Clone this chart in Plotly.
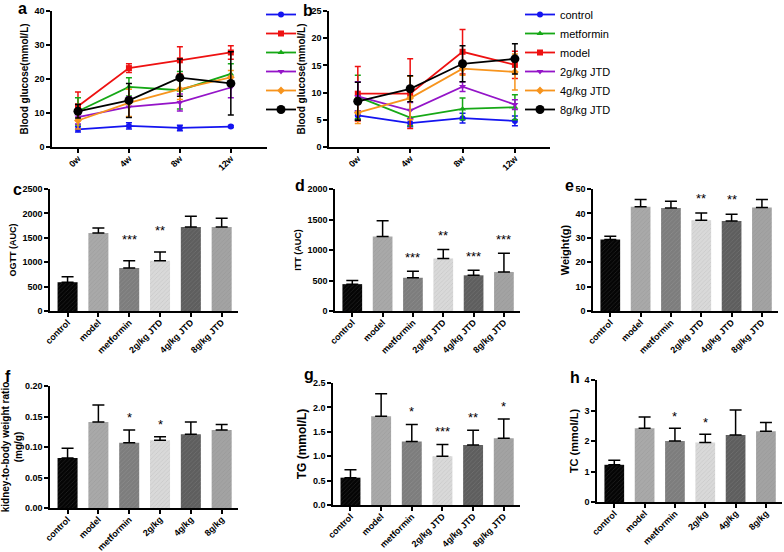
import plotly.graph_objects as go

W, H = 784, 552
FONT = "Liberation Sans, Arial, sans-serif"

# ---------------- data ----------------
weeks = ["0w", "4w", "8w", "12w"]
groups_a = ["control", "model", "metformin", "2g/kg JTD", "4g/kg JTD", "8g/kg JTD"]
groups_b = ["control", "metformin", "model", "2g/kg JTD", "4g/kg JTD", "8g/kg JTD"]

glu_a = {
    "control":   [5.2, 6.2, 5.6, 6.0],
    "model":     [12.0, 23.2, 25.5, 27.8],
    "metformin": [10.5, 17.7, 16.7, 21.5],
    "2g/kg JTD": [8.8, 11.8, 13.1, 17.5],
    "4g/kg JTD": [7.8, 13.0, 17.0, 20.5],
    "8g/kg JTD": [10.5, 13.7, 20.4, 18.7],
}
glu_a_err = {
    "control":   [0.8, 0.9, 0.8, 0.3],
    "model":     [4.2, 1.3, 4.0, 2.0],
    "metformin": [4.0, 2.7, 5.5, 3.0],
    "2g/kg JTD": [2.0, 3.0, 2.5, 3.0],
    "4g/kg JTD": [2.5, 4.0, 3.0, 2.0],
    "8g/kg JTD": [2.0, 5.0, 5.5, 9.3],
}
glu_b = {
    "control":   [5.8, 4.4, 5.3, 4.8],
    "metformin": [9.2, 5.4, 7.0, 7.3],
    "model":     [9.8, 9.8, 17.5, 15.1],
    "2g/kg JTD": [9.3, 6.7, 11.1, 7.8],
    "4g/kg JTD": [6.3, 9.0, 14.4, 13.8],
    "8g/kg JTD": [8.4, 10.7, 15.3, 16.2],
}
glu_b_err = {
    "control":   [0.8, 0.7, 0.9, 0.9],
    "metformin": [4.0, 1.5, 2.0, 2.3],
    "model":     [5.0, 6.4, 4.1, 2.5],
    "2g/kg JTD": [2.7, 1.5, 0.9, 0.9],
    "4g/kg JTD": [2.0, 4.0, 1.2, 3.3],
    "8g/kg JTD": [3.5, 2.4, 3.3, 2.8],
}
line_colors = {
    "control": "#1414f0", "model": "#ee1111", "metformin": "#16a816",
    "2g/kg JTD": "#9414c8", "4g/kg JTD": "#f7941d", "8g/kg JTD": "#000000",
}
line_symbols = {
    "control": "circle", "model": "square", "metformin": "triangle-up",
    "2g/kg JTD": "triangle-down", "4g/kg JTD": "diamond", "8g/kg JTD": "circle",
}

bar_groups_long = ["control", "model", "metformin", "2g/kg JTD", "4g/kg JTD", "8g/kg JTD"]
bar_groups_short = ["control", "model", "metformin", "2g/kg", "4g/kg", "8g/kg"]
bar_colors = ["#050505", "#a9a9a9", "#7d7d7d", "#d9d9d9", "#5e5e5e", "#a3a3a3"]

ogtt = [590, 1600, 880, 1030, 1720, 1720]
ogtt_err = [110, 100, 150, 180, 220, 180]
ogtt_sig = ["", "", "***", "**", "", ""]

itt = [440, 1220, 545, 860, 585, 640]
itt_err = [60, 260, 105, 150, 85, 305]
itt_sig = ["", "", "***", "**", "***", "***"]

weight = [29.3, 42.7, 42.2, 37.2, 36.9, 42.4]
weight_err = [1.3, 3.0, 2.8, 3.0, 2.8, 3.3]
weight_sig = ["", "", "", "**", "**", ""]

kidney = [0.082, 0.141, 0.107, 0.111, 0.121, 0.128]
kidney_err = [0.016, 0.028, 0.021, 0.006, 0.020, 0.009]
kidney_sig = ["", "", "*", "*", "", ""]

tg = [0.56, 1.82, 1.30, 1.00, 1.23, 1.37]
tg_err = [0.16, 0.46, 0.35, 0.24, 0.30, 0.39]
tg_sig = ["", "", "*", "***", "**", "*"]

tc = [1.22, 2.42, 2.00, 1.95, 2.20, 2.32]
tc_err = [0.15, 0.37, 0.42, 0.27, 0.82, 0.29]
tc_sig = ["", "", "*", "*", "", ""]

# ---------------- layout helpers ----------------
def xd(l, r):
    return [l / W, r / W]

def yd(t, b):
    return [1 - b / H, 1 - t / H]

fig = go.Figure()
layout = {}
annotations = []

tickfont = dict(family=FONT, size=9, color="black", weight="bold")

def add_axes(i, xdom, ydom, yrange, dtick, ytitle, title_size, xrange, tickformat=None, standoff=4):
    xs = "xaxis" if i == 1 else f"xaxis{i}"
    ys = "yaxis" if i == 1 else f"yaxis{i}"
    layout[xs] = dict(domain=xdom, anchor=f"y{i}" if i > 1 else "y", range=xrange,
                      showline=True, linecolor="black", linewidth=1.5, ticks="outside",
                      ticklen=4, tickwidth=1.5, tickcolor="black", tickangle=-45,
                      ticklabelstandoff=-3,
                      tickfont=tickfont, showgrid=False, zeroline=False, fixedrange=True,
                      automargin=False)
    layout[ys] = dict(domain=ydom, anchor=f"x{i}" if i > 1 else "x", range=yrange,
                      dtick=dtick, tick0=0, showline=True, linecolor="black", linewidth=1.5,
                      ticks="outside", ticklen=4, tickwidth=1.5, tickcolor="black",
                      tickfont=tickfont, showgrid=False, zeroline=False, fixedrange=True,
                      automargin=False,
                      title=dict(text=ytitle, font=dict(family=FONT, size=title_size, color="black",
                                                        weight="bold"), standoff=standoff))
    if tickformat:
        layout[ys]["tickformat"] = tickformat

def ax(i):
    return ("x" if i == 1 else f"x{i}", "y" if i == 1 else f"y{i}")

# ---------------- line panels ----------------
add_axes(1, xd(52, 267), yd(11, 147), [0, 40], 10, "Blood glucose(mmol/L)", 10, [-0.51, 3.71])
add_axes(2, xd(329, 550), yd(11, 147), [0, 25], 5, "Blood glucose(mmol/L)", 10, [-0.55, 3.67])

for g in groups_a:
    xa, ya = ax(1)
    fig.add_trace(go.Scatter(
        x=weeks, y=glu_a[g], name="", mode="lines+markers", xaxis=xa, yaxis=ya,
        hovertemplate=g + ": %{y}<extra></extra>",
        line=dict(color=line_colors[g], width=1.8),
        marker=dict(symbol=line_symbols[g], color=line_colors[g],
                    size=9 if g == "8g/kg JTD" else 6),
        error_y=dict(type="data", array=glu_a_err[g], color=line_colors[g], thickness=1.5, width=3),
        legend="legend2", showlegend=True))

for g in groups_b:
    xa, ya = ax(2)
    fig.add_trace(go.Scatter(
        x=weeks, y=glu_b[g], name=g, mode="lines+markers", xaxis=xa, yaxis=ya,
        line=dict(color=line_colors[g], width=1.8),
        marker=dict(symbol=line_symbols[g], color=line_colors[g],
                    size=9 if g == "8g/kg JTD" else 6),
        error_y=dict(type="data", array=glu_b_err[g], color=line_colors[g], thickness=1.5, width=3),
        legend="legend", showlegend=True))

# ---------------- bar panels ----------------
bar_panels = [
    (3, xd(50, 238), yd(189, 311), [0, 2500], 500, "OGTT (AUC)", 9, None, bar_groups_long, ogtt, ogtt_err, ogtt_sig, 20),
    (4, xd(335, 520), yd(189, 311), [0, 2000], 500, "ITT (AUC)", 9, None, bar_groups_long, itt, itt_err, itt_sig, 12),
    (5, xd(593, 778), yd(189, 311), [0, 50], 10, "Weight(g)", 11, None, bar_groups_long, weight, weight_err, weight_sig, 13),
    (6, xd(50, 238), yd(386, 508), [0, 0.2], 0.05, "kidney-to-body weight ratio<br>(mg/g)", 10, ".2f", bar_groups_short, kidney, kidney_err, kidney_sig, 11),
    (7, xd(333, 520), yd(383, 505), [0, 2.5], 0.5, "TG (mmol/L)", 12, ".1f", bar_groups_long, tg, tg_err, tg_sig, 11),
    (8, xd(597, 782), yd(380, 502), [0, 4], 1, "TC (mmol/L)", 11, None, bar_groups_short, tc, tc_err, tc_sig, 10),
]

for (i, xdom, ydom, yr, dt, title, tsize, tf, cats, vals, errs, sig, shift) in bar_panels:
    add_axes(i, xdom, ydom, yr, dt, title, tsize, [-0.57, 5.53], tf)
    xa, ya = ax(i)
    fig.add_trace(go.Bar(
        x=cats, y=vals, xaxis=xa, yaxis=ya, width=0.65, showlegend=False,
        marker=dict(color=bar_colors, line=dict(width=0),
                    pattern=dict(shape="/", size=3, solidity=0.2, fillmode="overlay",
                                 fgcolor="#ffffff", fgopacity=0.15)),
        error_y=dict(type="data", symmetric=False, array=errs, arrayminus=[0] * len(errs),
                     color="black", thickness=1.5, width=6)))
    for c, v, e, s in zip(cats, vals, errs, sig):
        if s:
            annotations.append(dict(x=c, y=v + e, xref=xa, yref=ya, text=s, showarrow=False,
                                    yanchor="bottom", yshift=shift - 8,
                                    font=dict(family=FONT, size=13, color="black")))

# ---------------- panel letters ----------------
letters = [("a", 22, 9), ("b", 308, 11), ("c", 17, 189), ("d", 300, 186), ("e", 569, 185),
           ("f", 8, 376), ("g", 309, 374), ("h", 575, 377)]
for t, px, py in letters:
    annotations.append(dict(x=px / W, y=1 - py / H, xref="paper", yref="paper", text=t,
                            showarrow=False, xanchor="center", yanchor="middle",
                            font=dict(family=FONT, size=16, color="black", weight="bold")))

layout.update(
    template="none",
    width=W, height=H, margin=dict(l=0, r=0, t=0, b=0, autoexpand=False),
    paper_bgcolor="white", plot_bgcolor="white",
    font=dict(family=FONT, color="black"),
    annotations=annotations,
    legend=dict(x=520 / W, y=1 - 0 / H, xanchor="left", yanchor="top",
                font=dict(family=FONT, size=11, color="black"), tracegroupgap=0,
                bgcolor="rgba(0,0,0,0)", itemwidth=30),
    legend2=dict(x=261 / W, y=1 - 0 / H, xanchor="left", yanchor="top",
                 font=dict(family=FONT, size=11, color="black"), tracegroupgap=0,
                 bgcolor="rgba(0,0,0,0)", itemwidth=30),
    showlegend=True,
)
fig.update_layout(**layout)
fig.write_html("out.html", config={"displayModeBar": False},
               post_script="document.body.style.margin='0';")
